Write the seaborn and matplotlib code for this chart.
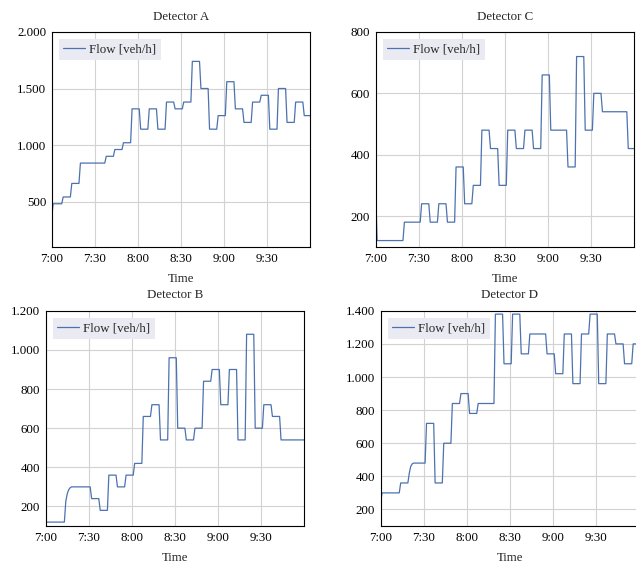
import numpy as np
import pandas as pd
import matplotlib
matplotlib.use("Agg")
import matplotlib.pyplot as plt
from matplotlib.ticker import FuncFormatter, MultipleLocator
import seaborn as sns

# ---------------- data (6-minute flow values, veh/h) ----------------
DETECTORS = ["Detector A", "Detector C", "Detector B", "Detector D"]
TICK_MINUTES = [0, 30, 60, 90, 120, 150]
TICK_LABELS = ["7:00", "7:30", "8:00", "8:30", "9:00", "9:30"]

FLOW_A = [360, 480, 540, 660, 840, 840, 840, 900, 960, 1020, 1320, 1140, 1320, 1140,
          1380, 1320, 1380, 1740, 1500, 1140, 1260, 1560, 1320, 1200, 1380, 1440,
          1140, 1500, 1200, 1380, 1260]
FLOW_C = [270, 120, 120, 120, 180, 180, 240, 180, 240, 180, 360, 240, 300, 480, 420,
          300, 480, 420, 480, 420, 660, 480, 480, 360, 720, 480, 600, 540, 540, 540, 420]
FLOW_B = [120, 120, 120, 300, 300, 300, 240, 180, 360, 300, 360, 420, 660, 720, 540,
          960, 600, 540, 600, 840, 900, 720, 900, 540, 1080, 600, 720, 660, 540, 540, 540]
FLOW_D = [240, 300, 300, 360, 480, 480, 720, 360, 600, 840, 900, 780, 840, 840, 1380,
          1080, 1380, 1140, 1260, 1260, 1140, 1020, 1260, 960, 1260, 1380, 960, 1260,
          1200, 1080, 1200]

# smooth ramps (minute, value)
B_SMOOTH_T = [14, 15, 16, 17]
B_SMOOTH_V = [225, 265, 285, 295]
D_SMOOTH_T = [20, 21, 22]
D_SMOOTH_V = [420, 460, 475]

Y_TOP = {"Detector A": 2000, "Detector C": 800, "Detector B": 1200, "Detector D": 1400}
Y_STEP = {"Detector A": 500, "Detector C": 200, "Detector B": 200, "Detector D": 200}
Y_BOTTOM = 100

# ---------------- build per-minute series ----------------
minutes = np.arange(0, 181)
hold = [1, 7] + [6] * 28 + [5]


def expand(blocks, st=None, sv=None):
    v = np.repeat(np.asarray(blocks, dtype=float), hold)
    if st is not None:
        v[np.asarray(st)] = sv
    return v


series = {
    "Detector A": expand(FLOW_A),
    "Detector C": expand(FLOW_C),
    "Detector B": expand(FLOW_B, B_SMOOTH_T, B_SMOOTH_V),
    "Detector D": expand(FLOW_D, D_SMOOTH_T, D_SMOOTH_V),
}
df = pd.concat(
    [pd.DataFrame({"minute": minutes, "flow": v, "detector": k}) for k, v in series.items()],
    ignore_index=True,
)

# ---------------- style ----------------
sns.set_theme(style="white")
plt.rcParams["font.family"] = ["Liberation Serif", "DejaVu Serif"]
plt.rcParams["font.size"] = 9.3
plt.rcParams["axes.linewidth"] = 0.8

W, H = 636, 563
fig = plt.figure(figsize=(W / 100, H / 100), dpi=100)
fig.patch.set_facecolor("white")

# axes rectangles in pixels: left, top, right, bottom
rects = {
    "Detector A": (51.7, 32.0, 310.0, 246.7),
    "Detector C": (375.7, 32.0, 634.0, 246.7),
    "Detector B": (45.7, 310.8, 304.0, 526.0),
    "Detector D": (380.6, 310.8, 638.9, 526.0),
}

fmt = FuncFormatter(lambda v, p: f"{v:,.0f}".replace(",", "."))

for name in DETECTORS:
    l, t, r, b = rects[name]
    ax = fig.add_axes([l / W, 1 - b / H, (r - l) / W, (b - t) / H])
    sub = df[df["detector"] == name]
    sns.lineplot(data=sub, x="minute", y="flow", ax=ax, color="#4C72B0",
                 linewidth=0.9, estimator=None, label="Flow [veh/h]")
    ax.set_xlim(0, 180)
    ax.set_ylim(Y_BOTTOM, Y_TOP[name])
    ax.set_xticks(TICK_MINUTES)
    ax.set_xticklabels(TICK_LABELS)
    ax.yaxis.set_major_locator(MultipleLocator(Y_STEP[name]))
    ax.yaxis.set_major_formatter(fmt)
    ax.grid(True, color="#d2d2d2", linewidth=0.8)
    ax.set_axisbelow(True)
    for s in ax.spines.values():
        s.set_color("black")
        s.set_linewidth(0.8)
    ax.tick_params(axis="both", direction="in", length=3.2, width=0.8,
                   color="#8a8a8a", labelcolor="black", labelsize=9.3, pad=4)
    ax.tick_params(axis="x", pad=4.2)
    ax.set_title(name, fontsize=9.3, pad=9)
    ax.set_xlabel("Time", fontsize=9.3, labelpad=6)
    ax.set_ylabel("")
    leg = ax.legend(loc="upper left", frameon=True, fontsize=9.3,
                    borderpad=0.36, handlelength=1.7, handletextpad=0.3,
                    borderaxespad=0.55, fancybox=False)
    leg.get_frame().set_facecolor("#EAEAF2")
    leg.get_frame().set_edgecolor("none")
    leg.get_frame().set_alpha(1.0)

fig.savefig("out.png", dpi=100, facecolor="white")
